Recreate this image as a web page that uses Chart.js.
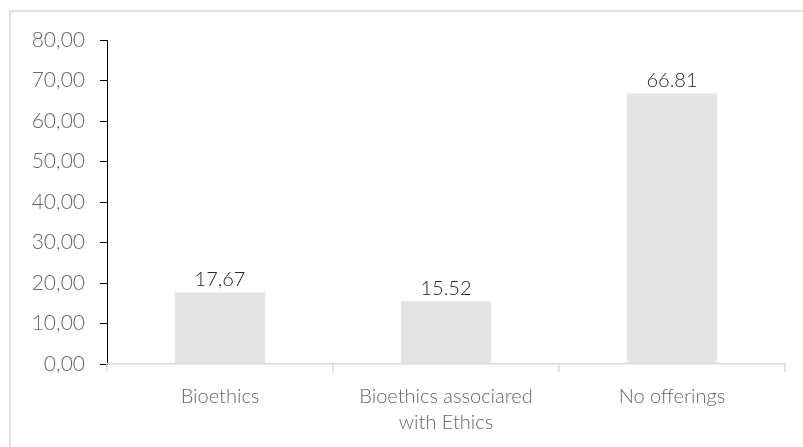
<!DOCTYPE html>
<html>
<head>
<meta charset="utf-8">
<script src="https://cdn.jsdelivr.net/npm/chart.js@4"></script>
<style>
  body { margin: 0; background: #fff; }
  #wrap { width: 803px; height: 447px; }
</style>
</head>
<body>
<div id="wrap"><canvas id="graph" width="803" height="447"></canvas></div>
<script>
// Данные
const categories = [['Bioethics'], ['Bioethics associared', 'with Ethics'], ['No offerings']];
const values = [17.67, 15.52, 66.81];
const valueLabels = ['17,67', '15.52', '66.81'];
const yTicks = ['0,00', '10,00', '20,00', '30,00', '40,00', '50,00', '60,00', '70,00', '80,00'];

const FONT = 'Lato, "Open Sans", sans-serif';

// рамка вокруг всей диаграммы + подписи над столбцами
const extras = {
    id: 'extras',
    beforeDraw(chart) {
        const c = chart.ctx;
        c.save();
        c.strokeStyle = '#d9d9d9';
        c.lineWidth = 1.5;
        c.strokeRect(10, 11, 820, 460);
        c.restore();
    },
    afterDatasetsDraw(chart) {
        const c = chart.ctx;
        const meta = chart.getDatasetMeta(0);
        c.save();
        c.fillStyle = '#262626';
        c.font = '300 20px ' + FONT;
        c.textAlign = 'center';
        c.textBaseline = 'bottom';
        meta.data.forEach((bar, i) => {
            c.fillText(valueLabels[i], bar.x, bar.y - 3);
        });
        c.restore();
    }
};

new Chart(document.getElementById('graph'), {
    type: 'bar',
    data: {
        labels: categories,
        datasets: [{
            data: values,
            backgroundColor: '#e4e4e4',
            categoryPercentage: 0.4,
            barPercentage: 1.0
        }]
    },
    options: {
        responsive: false,
        animation: false,
        layout: { padding: { top: 40, right: 18, bottom: 0, left: 0 } },
        scales: {
            y: {
                min: 0,
                max: 80,
                ticks: {
                    stepSize: 10,
                    color: '#666666',
                    font: { family: FONT, size: 21, weight: '300' },
                    padding: 15,
                    callback: (v, i) => yTicks[i]
                },
                grid: { drawOnChartArea: false, drawTicks: true, tickLength: 7, color: '#000' },
                border: { display: true, color: '#000', width: 1 },
                afterFit: scale => { scale.width = 107; }
            },
            x: {
                offset: true,
                ticks: {
                    color: '#666666',
                    font: { family: FONT, size: 20, weight: '300', lineHeight: 1.3 },
                    padding: 12,
                    maxRotation: 0
                },
                grid: { offset: true, drawOnChartArea: false, drawTicks: true, tickLength: 8, color: '#d9d9d9', lineWidth: 1.5 },
                border: { display: true, color: '#d9d9d9', width: 1.5 },
                afterFit: scale => { scale.height = 447 - 364; }
            }
        },
        plugins: {
            legend: { display: false },
            title: { display: false },
            tooltip: { enabled: false }
        }
    },
    plugins: [extras]
});
</script>
</body>
</html>
